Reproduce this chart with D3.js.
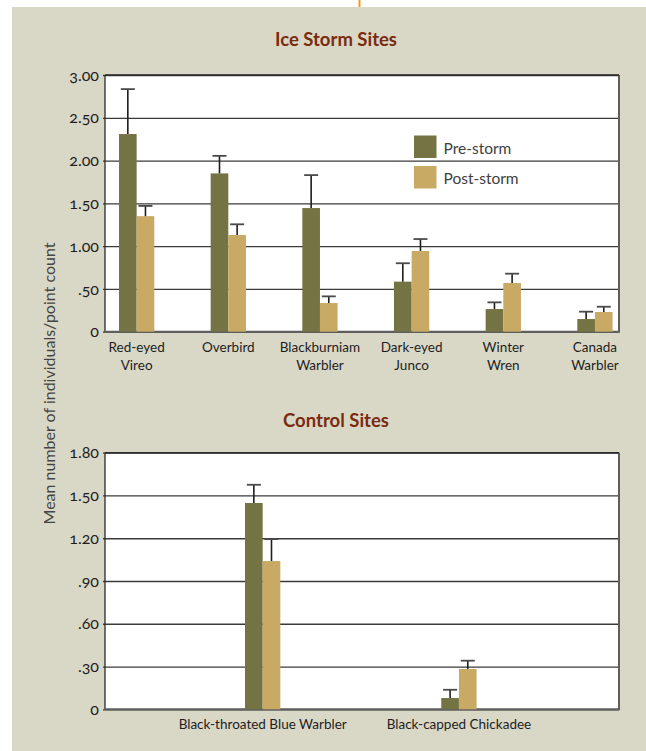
<!DOCTYPE html>
<html>
<head>
<meta charset="utf-8">
<script src="https://cdn.jsdelivr.net/npm/d3@7"></script>
<style>
  html, body { margin: 0; padding: 0; background: #ffffff; overflow: hidden; }
  svg { display: block; font-family: Lato, "Open Sans", "DejaVu Sans", sans-serif; font-variant-numeric: oldstyle-nums; }
</style>
</head>
<body>
<svg id="chart" width="646" height="751"></svg>
<script>
// Ice storm sites: mean birds per point count, before and after the storm
const iceCategories = [
  ["Red-eyed", "Vireo"],
  ["Overbird"],
  ["Blackburniam", "Warbler"],
  ["Dark-eyed", "Junco"],
  ["Winter", "Wren"],
  ["Canada", "Warbler"]
];
const icePre = [2.31, 1.85, 1.445, 0.585, 0.265, 0.148];
const icePreErr = [0.525, 0.205, 0.385, 0.215, 0.078, 0.086];
const icePost = [1.35, 1.13, 0.335, 0.943, 0.569, 0.23];
const icePostErr = [0.12, 0.125, 0.078, 0.14, 0.109, 0.062];
const iceTicks = [0, 0.5, 1.0, 1.5, 2.0, 2.5, 3.0];

// Control sites
const controlCategories = [
  ["Black-throated Blue Warbler"],
  ["Black-capped Chickadee"]
];
const controlPre = [1.447, 0.079];
const controlPreErr = [0.128, 0.058];
const controlPost = [1.04, 0.283];
const controlPostErr = [0.154, 0.058];
const controlTicks = [0, 0.3, 0.6, 0.9, 1.2, 1.5, 1.8];

const seriesNames = ["Pre-storm", "Post-storm"];
const seriesColors = ["#747344", "#c9aa65"];
const titleColor = "#7a2b0f";

const svg = d3.select("#chart");

// page panel
svg.append("rect").attr("x", 12).attr("y", 7).attr("width", 634).attr("height", 744).attr("fill", "#d9d7c6");
svg.append("line").attr("x1", 359.5).attr("x2", 359.5).attr("y1", 0).attr("y2", 7)
  .attr("stroke", "#f39a1e").attr("stroke-width", 2);

const tickFmt = v => v === 0 ? "0" : d3.format(".2f")(v).replace(/^0/, "");

function drawPanel(opts) {
  const { title, titleY, top, bottom, left, right, ticks, cats, pre, preErr, post, postErr, bandRange, padInner, labelY } = opts;
  const g = svg.append("g");

  const y = d3.scaleLinear().domain([0, d3.max(ticks)]).range([bottom, top]);
  const xGroup = d3.scaleBand().domain(d3.range(cats.length)).range(bandRange).paddingInner(padInner).paddingOuter(0);
  const xSub = d3.scaleBand().domain([0, 1]).range([0, xGroup.bandwidth()]);

  // plot background
  g.append("rect").attr("x", left).attr("y", top).attr("width", right - left).attr("height", bottom - top).attr("fill", "#ffffff");

  // gridlines and tick labels
  const axis = d3.axisLeft(y).tickValues(ticks).tickFormat(tickFmt).tickSize(-(right - left + 2)).tickPadding(4);
  const ag = g.append("g").attr("transform", `translate(${left - 2},0)`).call(axis);
  ag.select(".domain").remove();
  ag.selectAll(".tick line").attr("stroke", "#3a3a3a").attr("stroke-width", 1.3);
  ag.selectAll(".tick text").attr("fill", "#1e1e1e").attr("font-size", 16).attr("font-family", "Lato, sans-serif");

  // frame
  g.append("line").attr("x1", right).attr("x2", right).attr("y1", top).attr("y2", bottom).attr("stroke", "#5e5e5e").attr("stroke-width", 2);
  g.append("line").attr("x1", left).attr("x2", left).attr("y1", top).attr("y2", bottom).attr("stroke", "#2a2a2a").attr("stroke-width", 1.3);
  g.append("line").attr("x1", left).attr("x2", right + 1).attr("y1", bottom).attr("y2", bottom).attr("stroke", "#5e5e5e").attr("stroke-width", 2);
  g.append("line").attr("x1", left).attr("x2", right).attr("y1", top).attr("y2", top).attr("stroke", "#2a2a2a").attr("stroke-width", 1.5);

  // bars
  const rows = cats.map((c, i) => [
    { i, s: 0, v: pre[i], e: preErr[i] },
    { i, s: 1, v: post[i], e: postErr[i] }
  ]).flat();

  const bars = g.append("g").selectAll("g").data(rows).join("g")
    .attr("transform", d => `translate(${xGroup(d.i) + xSub(d.s)},0)`);
  bars.append("rect")
    .attr("x", 0).attr("width", xSub.bandwidth())
    .attr("y", d => y(d.v)).attr("height", d => y(0) - y(d.v))
    .attr("fill", d => seriesColors[d.s]);
  // error bars
  const cx = xSub.bandwidth() / 2;
  bars.append("line").attr("x1", cx).attr("x2", cx)
    .attr("y1", d => y(d.v)).attr("y2", d => y(d.v + d.e))
    .attr("stroke", "#1e1e1e").attr("stroke-width", 1.6);
  bars.append("line").attr("x1", cx - 7).attr("x2", cx + 7)
    .attr("y1", d => y(d.v + d.e)).attr("y2", d => y(d.v + d.e))
    .attr("stroke", "#4a4a4a").attr("stroke-width", 1.8);

  // category labels
  const lab = g.append("g").selectAll("text").data(cats).join("text")
    .attr("x", (d, i) => xGroup(i) + xGroup.bandwidth() / 2)
    .attr("y", labelY)
    .attr("text-anchor", "middle").attr("font-size", 13.5).attr("fill", "#1e1e1e");
  lab.selectAll("tspan").data(d => d).join("tspan")
    .attr("x", function () { return this.parentNode.getAttribute("x"); })
    .attr("dy", (d, j) => j === 0 ? 0 : 17.5)
    .text(d => d);

  // title
  g.append("text").attr("x", (left + right) / 2 - 26).attr("y", titleY)
    .attr("text-anchor", "middle").attr("font-size", 18.5).attr("font-weight", 700)
    .attr("fill", titleColor).text(title);

  return { y, xGroup };
}

drawPanel({
  title: "Ice Storm Sites", titleY: 46,
  top: 75, bottom: 331.7, left: 105, right: 619,
  ticks: iceTicks, cats: iceCategories,
  pre: icePre, preErr: icePreErr, post: icePost, postErr: icePostErr,
  bandRange: [119, 612.6], padInner: 0.615, labelY: 352
});

drawPanel({
  title: "Control Sites", titleY: 427,
  top: 452.7, bottom: 709.3, left: 105, right: 619,
  ticks: controlTicks, cats: controlCategories,
  pre: controlPre, preErr: controlPreErr, post: controlPost, postErr: controlPostErr,
  bandRange: [245, 476.6], padInner: 0.82, labelY: 729
});

// legend
const legend = svg.append("g").attr("transform", "translate(414,135.5)");
seriesNames.forEach((name, i) => {
  legend.append("rect").attr("x", 0).attr("y", i * 30.5).attr("width", 22.5).attr("height", 22.5).attr("fill", seriesColors[i]);
  legend.append("text").attr("x", 29.5).attr("y", i * 30.5 + 18).attr("font-size", 15.5).attr("fill", "#404040").text(name);
});

// shared y-axis title
svg.append("text")
  .attr("transform", "translate(55,383.5) rotate(-90)")
  .attr("text-anchor", "middle").attr("font-size", 16).attr("fill", "#444444")
  .text("Mean number of individuals/point count");
</script>
</body>
</html>
